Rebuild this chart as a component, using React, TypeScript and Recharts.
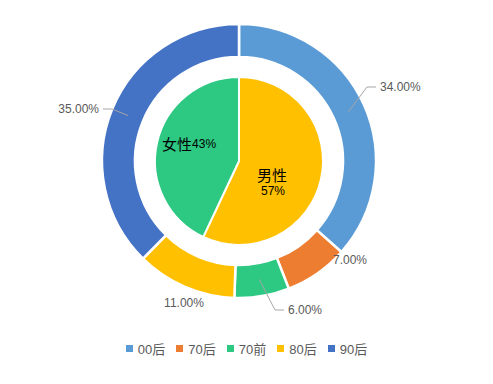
import { Pie, PieChart, Legend } from "recharts"

const ageGroups = ["00后", "70后", "70前", "80后", "90后"]
const agePercents = [34, 7, 6, 11, 35]
const ageColors = ["#5B9BD5", "#ED7D31", "#2DC882", "#FFC000", "#4472C4"]

const genders = ["男性", "女性"]
const genderPercents = [57, 43]
const genderColors = ["#FFC000", "#2DC882"]

const ageData = ageGroups.map((name, i) => ({ name, value: agePercents[i], fill: ageColors[i] }))
const genderData = genders.map((name, i) => ({ name, value: genderPercents[i], fill: genderColors[i] }))

const CX = 231
const CY = 153
const RAD = Math.PI / 180
const FONT = "'Liberation Sans', 'Noto Sans CJK SC', sans-serif"

// where each outer label sits, relative to the pie centre
const outerLabelLayout: Record<string, { ex: number; ey: number; line: boolean; anchor: "start" | "end" | "middle" }> = {
    "00后": { ex: 128, ey: -74, line: true, anchor: "start" },
    "70后": { ex: 94, ey: 99, line: false, anchor: "start" },
    "70前": { ex: 36, ey: 149, line: true, anchor: "start" },
    "80后": { ex: -55, ey: 142, line: false, anchor: "middle" },
    "90后": { ex: -127, ey: -52, line: true, anchor: "end" },
}

function OuterLabel(props: any) {
    const { cx, cy, midAngle, name, value } = props
    const lay = outerLabelLayout[name]
    if (!lay) return null
    const sx = cx + 120 * Math.cos(-midAngle * RAD)
    const sy = cy + 120 * Math.sin(-midAngle * RAD)
    const ex = cx + lay.ex
    const ey = cy + lay.ey
    const dir = lay.ex >= 0 ? 1 : -1
    const hx = ex + dir * 9
    const tx = lay.line ? hx + dir * 4 : ex
    return (
        <g>
            {lay.line && (
                <polyline points={`${sx},${sy} ${ex},${ey} ${hx},${ey}`} fill="none" stroke="#A6A6A6" strokeWidth={1} />
            )}
            <text x={tx} y={ey} textAnchor={lay.anchor} dominantBaseline="central" fill="#595959" fontSize={12} fontFamily={FONT}>
                {value.toFixed(2)}%
            </text>
        </g>
    )
}

function InnerLabel(props: any) {
    const { cx, cy, name, value } = props
    if (name === "男性") {
        return (
            <g fontFamily={FONT} fill="#000">
                <text x={cx + 33} y={cy + 14} textAnchor="middle" dominantBaseline="central" fontSize={15}>{name}</text>
                <text x={cx + 34} y={cy + 30} textAnchor="middle" dominantBaseline="central" fontSize={12}>{value}%</text>
            </g>
        )
    }
    return (
        <text x={cx - 77} y={cy - 17} dominantBaseline="central" fontFamily={FONT} fill="#000">
            <tspan fontSize={15}>{name}</tspan>
            <tspan fontSize={12}>{value}%</tspan>
        </text>
    )
}

function LegendContent() {
    return (
        <div style={{ display: "flex", justifyContent: "center", gap: 11, fontFamily: FONT, fontSize: 13, color: "#595959" }}>
            {ageGroups.map((g, i) => (
                <div key={g} style={{ display: "flex", alignItems: "center" }}>
                    <span style={{ width: 7, height: 7, background: ageColors[i], display: "inline-block", marginRight: 5 }} />
                    <span>{g}</span>
                </div>
            ))}
        </div>
    )
}

export default function App() {
    return (
        <div style={{ width: 477, height: 368, background: "#fff" }}>
            <PieChart width={477} height={368} margin={{ top: 0, right: 0, bottom: 0, left: 0 }}>
                <Pie
                    data={genderData}
                    dataKey="value"
                    nameKey="name"
                    cx={CX}
                    cy={CY}
                    outerRadius={84}
                    startAngle={90}
                    endAngle={-270}
                    stroke="#fff"
                    strokeWidth={2}
                    label={InnerLabel}
                    labelLine={false}
                    isAnimationActive={false}
                />
                <Pie
                    data={ageData}
                    dataKey="value"
                    nameKey="name"
                    cx={CX}
                    cy={CY}
                    innerRadius={104}
                    outerRadius={137}
                    startAngle={90}
                    endAngle={-270}
                    stroke="#fff"
                    strokeWidth={2.5}
                    label={OuterLabel}
                    labelLine={false}
                    isAnimationActive={false}
                />
                <Legend verticalAlign="bottom" wrapperStyle={{ bottom: 18 }} content={LegendContent} />
            </PieChart>
        </div>
    )
}
